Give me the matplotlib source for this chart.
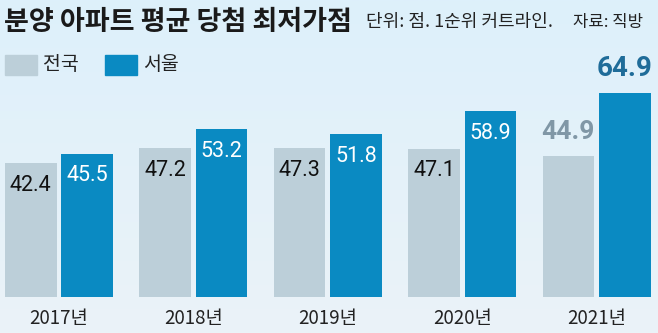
import numpy as np
import matplotlib
matplotlib.use("Agg")
import matplotlib.pyplot as plt
from matplotlib.patches import Rectangle

plt.rcParams['font.family'] = ['Noto Sans CJK KR', 'DejaVu Sans']

# 분양 아파트 평균 당첨 최저가점 (단위: 점, 1순위 커트라인)
years = ["2017년", "2018년", "2019년", "2020년", "2021년"]
national = [42.4, 47.2, 47.3, 47.1, 44.9]
seoul = [45.5, 53.2, 51.8, 58.9, 64.9]

GRAY = "#bccfd9"
BLUE = "#0a8ac2"
W, H = 658, 333

fig = plt.figure(figsize=(W / 100, H / 100), dpi=100)

# background gradient, light sky blue fading toward the bottom
bg = fig.add_axes([0, 0, 1, 1], zorder=-1)
top_c = np.array([0xdd, 0xf0, 0xfb]) / 255
bot_c = np.array([0xeb, 0xf3, 0xf8]) / 255
t = np.linspace(0, 1, 256)[:, None]
grad = top_c * (1 - t) + bot_c * t
bg.imshow(grad[:, None, :], aspect="auto", extent=[0, 1, 0, 1])
bg.axis("off")

# bar area: baseline at y=297px, 3.15 px per point
base_px = 297
ax = fig.add_axes([0, 1 - base_px / H, 1, base_px / H])
ax.patch.set_alpha(0)
pitch = 134.4
first = 59
ax.set_xlim(-first / pitch, (W - first) / pitch)
ax.set_ylim(0, base_px / 3.15)

x = np.arange(len(years))
bw = 0.385
off = 0.21
ax.bar(x - off, national, bw, color=GRAY)
ax.bar(x + off, seoul, bw, color=BLUE)

last = len(years) - 1
for i, (g, s) in enumerate(zip(national, seoul)):
    if i == last:
        ax.annotate(f"{g}", (x[i] - off, g), xytext=(0, 17), textcoords="offset points",
                    ha="center", va="center", fontsize=19, fontweight="bold",
                    color="#8097a6", family="Roboto")
        ax.annotate(f"{s}", (x[i] + off, s), xytext=(0, 17), textcoords="offset points",
                    ha="center", va="center", fontsize=20, fontweight="bold",
                    color="#1f6c99", family="Roboto")
    else:
        ax.annotate(f"{g}", (x[i] - off, g), xytext=(0, -16), textcoords="offset points",
                    ha="center", va="center", fontsize=15.5, color="#111111",
                    family="Roboto")
        ax.annotate(f"{s}", (x[i] + off, s), xytext=(0, -16), textcoords="offset points",
                    ha="center", va="center", fontsize=15.5, color="white",
                    family="Roboto")

ax.set_xticks(x)
ax.set_xticklabels(years, fontsize=13.5, color="#222222")
ax.tick_params(axis="x", length=0, pad=8)
ax.set_yticks([])
for sp in ax.spines.values():
    sp.set_visible(False)


def fx(px):
    return px / W


def fy(py):
    return 1 - py / H


fig.text(fx(4), fy(22), "분양 아파트 평균 당첨 최저가점", fontsize=19.5,
         fontweight="bold", color="#1a1a1a", va="center", ha="left")
fig.text(fx(366), fy(22), "단위: 점. 1순위 커트라인.", fontsize=13,
         color="#222222", va="center", ha="left")
fig.text(fx(643), fy(22), "자료: 직방", fontsize=12,
         color="#222222", va="center", ha="right")

# legend
for lx, color, label in [(5, GRAY, "전국"), (105, BLUE, "서울")]:
    fig.patches.append(Rectangle((fx(lx), fy(75)), fx(32), 20 / H, color=color,
                                 transform=fig.transFigure, figure=fig))
    fig.text(fx(lx + 38), fy(65), label, fontsize=14, color="#222222",
             va="center", ha="left")

fig.savefig("out.png", dpi=100)
